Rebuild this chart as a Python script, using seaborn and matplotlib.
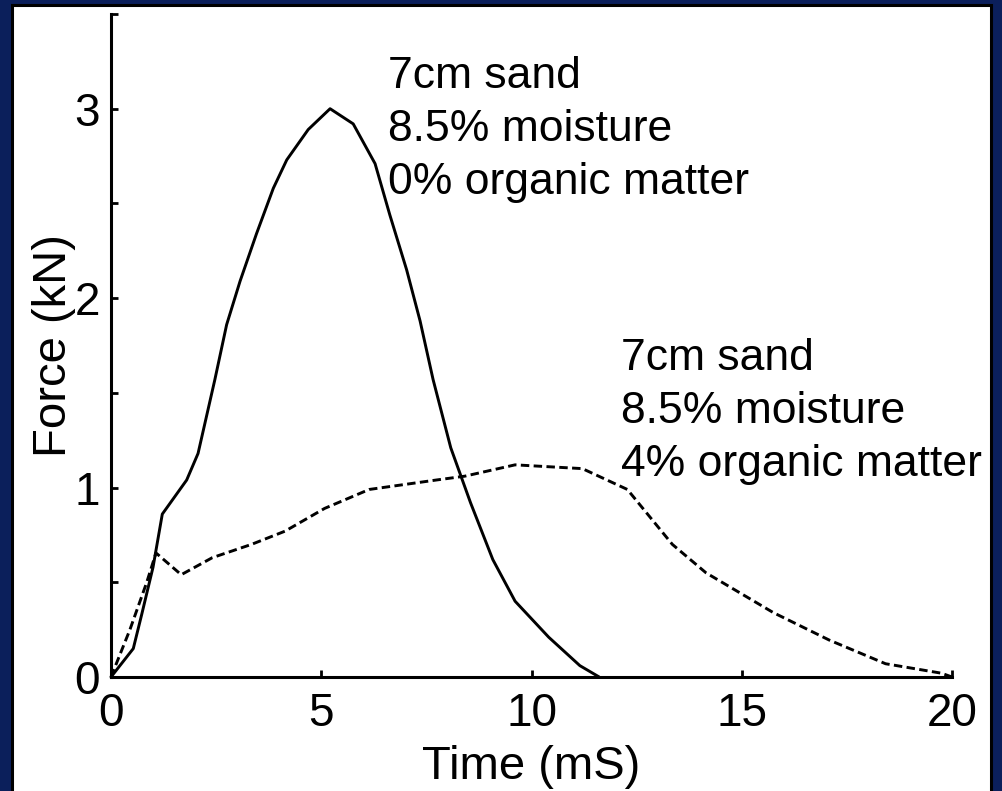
import numpy as np
import pandas as pd
import matplotlib
matplotlib.use("Agg")
import matplotlib.pyplot as plt
from matplotlib.patches import Rectangle
import seaborn as sns

# Impact force traces (time in ms, force in kN)
t_no_organic = [0, 0.53, 0.73, 1.0, 1.22, 1.8, 2.07, 2.47, 2.75, 3.07, 3.46, 3.86, 4.18,
                4.69, 5.21, 5.76, 6.28, 6.63, 7.03, 7.35, 7.66, 8.08, 8.55, 9.08, 9.61,
                10.41, 11.15, 11.61]
f_no_organic = [0, 0.15, 0.33, 0.58, 0.86, 1.04, 1.18, 1.57, 1.86, 2.09, 2.34, 2.58, 2.73,
                2.89, 3.0, 2.92, 2.71, 2.44, 2.15, 1.88, 1.57, 1.21, 0.92, 0.62, 0.40,
                0.21, 0.06, 0.0]

t_organic = [0, 0.45, 0.85, 1.07, 1.67, 2.41, 3.34, 4.14, 5.08, 6.14, 7.74, 8.41, 9.61,
             11.21, 12.28, 13.35, 14.15, 15.75, 17.08, 18.42, 19.75, 20.0]
f_organic = [0, 0.25, 0.5, 0.655, 0.54, 0.63, 0.70, 0.77, 0.89, 0.99, 1.04, 1.06, 1.12,
             1.10, 0.99, 0.70, 0.55, 0.34, 0.195, 0.07, 0.02, 0.0]

x_ticks = [0, 5, 10, 15, 20]
y_ticks = [0, 1, 2, 3]

label_no_organic = ["7cm sand", "8.5% moisture", "0% organic matter"]
label_organic = ["7cm sand", "8.5% moisture", "4% organic matter"]

sns.set_theme(style="ticks")
plt.rcParams["font.family"] = ["Liberation Sans", "DejaVu Sans"]

navy = "#0b1f5b"
fig = plt.figure(figsize=(10.03, 7.91), dpi=100)
fig.patch.set_facecolor(navy)

# white slide panel with a thin black border, kept behind the axes
fig.patches.append(Rectangle((12.5 / 1003, -0.02), (991 - 12.5) / 1003, (786 / 791) + 0.02,
                             transform=fig.transFigure, facecolor="white",
                             edgecolor="black", linewidth=2.2, zorder=-5))

ax = fig.add_axes([111 / 1003, 114 / 791, (952 - 111) / 1003, (677 - 14) / 791])
ax.set_facecolor("none")

df_a = pd.DataFrame({"t": t_no_organic, "f": f_no_organic})
df_b = pd.DataFrame({"t": t_organic, "f": f_organic})
sns.lineplot(data=df_a, x="t", y="f", ax=ax, color="black", linewidth=2.1,
             sort=False, clip_on=False)
sns.lineplot(data=df_b, x="t", y="f", ax=ax, color="black", linewidth=2.1,
             sort=False, clip_on=False)
ax.lines[-1].set_dashes((2.9, 1.5))

ax.set_xlim(0, 20)
ax.set_ylim(0, 3.5)
ax.set_xticks(x_ticks)
ax.set_xticklabels([str(v) for v in x_ticks])
ax.set_yticks(y_ticks)
ax.set_yticklabels([str(v) for v in y_ticks])
ax.set_yticks(np.arange(0.5, 3.6, 1.0), minor=True)

for s in ["top", "right"]:
    ax.spines[s].set_visible(False)
for s in ["left", "bottom"]:
    ax.spines[s].set_linewidth(2.2)
    ax.spines[s].set_color("black")

ax.tick_params(axis="both", which="both", direction="in", length=5, width=2.0,
               color="black", labelcolor="black")
ax.tick_params(axis="x", which="major", labelsize=33, pad=11)
ax.tick_params(axis="y", which="major", labelsize=33, pad=8)

ax.set_xlabel("Time (mS)", fontsize=34, color="black")
ax.set_ylabel("Force (kN)", fontsize=34, color="black")
ax.xaxis.set_label_coords(0.5, -0.103)
ax.yaxis.set_label_coords(-0.042, 0.5)

for i, line in enumerate(label_no_organic):
    ax.annotate(line, xy=(6.59, 3.11), xytext=(0, -38.2 * i), textcoords="offset points",
                ha="left", va="baseline", fontsize=32, color="black")
for i, line in enumerate(label_organic):
    ax.annotate(line, xy=(12.14, 1.62), xytext=(0, -38.2 * i), textcoords="offset points",
                ha="left", va="baseline", fontsize=32, color="black")

fig.savefig("out.png", dpi=100, facecolor=fig.get_facecolor())
